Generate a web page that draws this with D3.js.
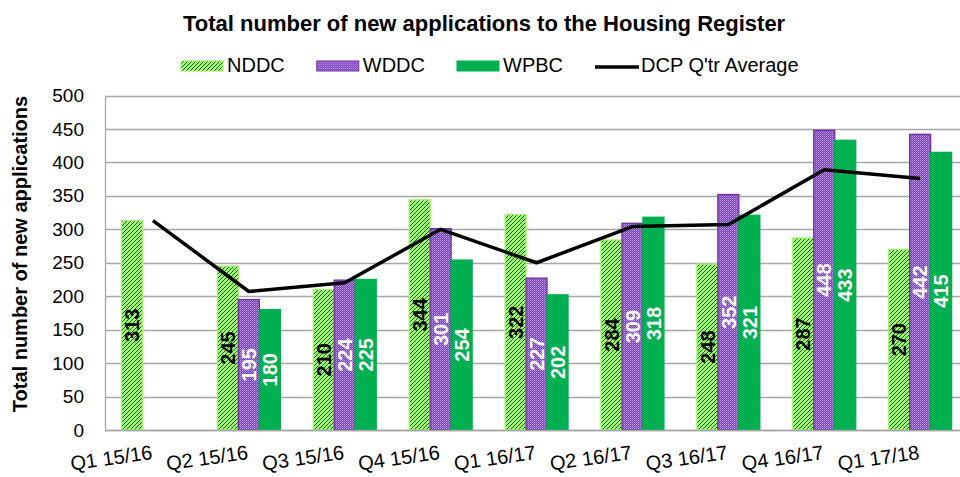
<!DOCTYPE html>
<html>
<head>
<meta charset="utf-8">
<script src="https://d3js.org/d3.v7.min.js"></script>
<style>
  body { margin: 0; background: #fff; }
  svg { display: block; font-family: "Liberation Sans", Arial, sans-serif; }
</style>
</head>
<body>
<script>
// quarters along the x axis
var quarters = ["Q1 15/16", "Q2 15/16", "Q3 15/16", "Q4 15/16", "Q1 16/17",
                "Q2 16/17", "Q3 16/17", "Q4 16/17", "Q1 17/18"];
var seriesNames = ["NDDC", "WDDC", "WPBC"];
var nddc = [313, 245, 210, 344, 322, 284, 248, 287, 270];
var wddc = [null, 195, 224, 301, 227, 309, 352, 448, 442];
var wpbc = [null, 180, 225, 254, 202, 318, 321, 433, 415];
var dcpAverage = [313, 207, 220, 300, 250, 304, 307, 389, 376];
var yTicks = [0, 50, 100, 150, 200, 250, 300, 350, 400, 450, 500];

var width = 960, height = 477;
var plot = {left: 105, top: 95.5, bottom: 430, step: 95.9};

var svg = d3.select("body").append("svg")
  .attr("width", width)
  .attr("height", height);

// fill patterns for the two hatched series
var defs = svg.append("defs");
var hatch = defs.append("pattern")
  .attr("id", "hatch")
  .attr("patternUnits", "userSpaceOnUse")
  .attr("width", 4).attr("height", 4);
hatch.append("rect").attr("width", 4).attr("height", 4).attr("fill", "#99ff66");
hatch.append("path")
  .attr("d", "M-1,1 l2,-2 M0,4 l4,-4 M3,5 l2,-2")
  .attr("stroke", "#203d10").attr("stroke-width", 0.9);

var dots = defs.append("pattern")
  .attr("id", "dots")
  .attr("patternUnits", "userSpaceOnUse")
  .attr("width", 2).attr("height", 2);
dots.append("rect").attr("width", 2).attr("height", 2).attr("fill", "#7a3cb6");
dots.append("rect").attr("width", 1).attr("height", 1).attr("fill", "#c2a4e8");
dots.append("rect").attr("x", 1).attr("y", 1).attr("width", 1).attr("height", 1).attr("fill", "#9d70d2");

var fills = {NDDC: "url(#hatch)", WDDC: "url(#dots)", WPBC: "#00b050"};
var strokes = {NDDC: "#a6f27a", WDDC: "#7030a0", WPBC: "#00b050"};
var labelColors = {NDDC: "#000", WDDC: "#fff", WPBC: "#fff"};
var values = {NDDC: nddc, WDDC: wddc, WPBC: wpbc};

var x = d3.scaleBand()
  .domain(quarters)
  .range([plot.left, plot.left + plot.step * quarters.length])
  .padding(0);

var xs = d3.scaleBand()
  .domain(seriesNames)
  .range([0, x.bandwidth()])
  .paddingInner(0)
  .paddingOuter(0.785);

var y = d3.scaleLinear()
  .domain([0, 500])
  .range([plot.bottom, plot.top]);

// gridlines
svg.append("g")
  .selectAll("line")
  .data(yTicks)
  .join("line")
  .attr("x1", plot.left).attr("x2", width)
  .attr("y1", d => Math.round(y(d)) + 0.5)
  .attr("y2", d => Math.round(y(d)) + 0.5)
  .attr("stroke", "#a6a6a6")
  .attr("stroke-width", 1.3);

// y axis
var yAxis = svg.append("g")
  .attr("transform", "translate(" + plot.left + ",0)")
  .call(d3.axisLeft(y).tickValues(yTicks).tickSize(0).tickPadding(21));
yAxis.select(".domain").attr("stroke", "#a6a6a6").attr("stroke-width", 1.3);
yAxis.selectAll("text").attr("font-size", 19).attr("fill", "#000")
  .attr("font-family", "Liberation Sans, Arial, sans-serif");

// bars
var rows = [];
quarters.forEach((q, i) => {
  seriesNames.forEach(s => {
    if (values[s][i] != null) rows.push({quarter: q, series: s, value: values[s][i]});
  });
});

var bars = svg.append("g");
bars.selectAll("rect")
  .data(rows)
  .join("rect")
  .attr("x", d => x(d.quarter) + xs(d.series))
  .attr("width", xs.bandwidth())
  .attr("y", d => y(d.value))
  .attr("height", d => y(0) - y(d.value))
  .attr("fill", d => fills[d.series])
  .attr("stroke", d => strokes[d.series])
  .attr("stroke-width", 1.3);

// x axis line
svg.append("line")
  .attr("x1", plot.left).attr("x2", width)
  .attr("y1", plot.bottom + 0.5).attr("y2", plot.bottom + 0.5)
  .attr("stroke", "#a6a6a6").attr("stroke-width", 1.3);

// average line
var line = d3.line()
  .x((d, i) => x(quarters[i]) + x.bandwidth() / 2)
  .y(d => y(d));
svg.append("path")
  .datum(dcpAverage)
  .attr("d", line)
  .attr("fill", "none")
  .attr("stroke", "#000")
  .attr("stroke-width", 3.5)
  .attr("stroke-linejoin", "round");

// data labels, rotated, centred in each bar
svg.append("g")
  .selectAll("text")
  .data(rows)
  .join("text")
  .attr("transform", d => {
    var cx = x(d.quarter) + xs(d.series) + xs.bandwidth() / 2;
    var cy = (y(d.value) + y(0)) / 2;
    return "translate(" + cx + "," + cy + ") rotate(-90)";
  })
  .attr("text-anchor", "middle")
  .attr("dy", "0.36em")
  .attr("font-size", 20)
  .attr("font-weight", "bold")
  .attr("fill", d => labelColors[d.series])
  .text(d => d.value);

// x labels, slightly tilted, ending at the group centre
svg.append("g")
  .selectAll("text")
  .data(quarters)
  .join("text")
  .attr("transform", d => "translate(" + (x(d) + x.bandwidth() / 2) + ",459) rotate(-8)")
  .attr("text-anchor", "end")
  .attr("font-size", 20)
  .attr("fill", "#000")
  .text(d => d);

// y axis title
svg.append("text")
  .attr("transform", "translate(27,254) rotate(-90)")
  .attr("text-anchor", "middle")
  .attr("font-size", 20)
  .attr("font-weight", "bold")
  .attr("fill", "#000")
  .text("Total number of new applications");

// chart title
svg.append("text")
  .attr("x", 183).attr("y", 31)
  .attr("font-size", 22)
  .attr("font-weight", "bold")
  .attr("fill", "#000")
  .text("Total number of new applications to the Housing Register");

// legend
var legend = svg.append("g");
var lx = 181;
seriesNames.concat(["DCP Q'tr Average"]).forEach((name, i) => {
  var g = legend.append("g").attr("transform", "translate(" + lx + ",0)");
  if (i < 3) {
    g.append("rect")
      .attr("x", 0).attr("y", 61)
      .attr("width", 42).attr("height", 10)
      .attr("fill", fills[name])
      .attr("stroke", strokes[name]).attr("stroke-width", 1);
  } else {
    g.append("line")
      .attr("x1", 0).attr("x2", 44)
      .attr("y1", 67).attr("y2", 67)
      .attr("stroke", "#000").attr("stroke-width", 3.5);
  }
  var t = g.append("text")
    .attr("x", 46)
    .attr("y", 72)
    .attr("font-size", 20)
    .attr("fill", "#000")
    .text(name);
  lx += 46 + t.node().getComputedTextLength() + 32;
});
</script>
</body>
</html>
